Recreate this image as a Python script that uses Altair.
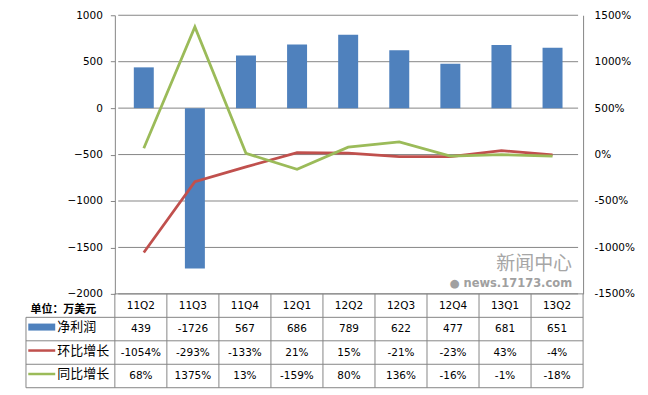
import altair as alt
import pandas as pd

# ---------------- data ----------------
categories = ["11Q2", "11Q3", "11Q4", "12Q1", "12Q2", "12Q3", "12Q4", "13Q1", "13Q2"]
net_profit = [439, -1726, 567, 686, 789, 622, 477, 681, 651]
qoq_growth = [-1054, -293, -133, 21, 15, -21, -23, 43, -4]
yoy_growth = [68, 1375, 13, -159, 80, 136, -16, -1, -18]
left_ticks = [1000, 500, 0, -500, -1000, -1500, -2000]
right_ticks = [1500, 1000, 500, 0, -500, -1000, -1500]
unit_label = "单位：万美元"
row_labels = ["净利润", "环比增长", "同比增长"]
watermark_title = "新闻中心"
watermark_sub = "● news.17173.com"

# ---------------- styles ----------------
BLUE = "#4F81BD"
RED = "#C0504D"
GREEN = "#9BBB59"
GRID = "#868686"
FONT = "DejaVu Sans"
CJK = "Noto Sans CJK SC"

n = len(categories)
LABEL_W = 89.0
CAT_W = 52.1
L = LABEL_W / CAT_W
W = LABEL_W + n * CAT_W
H_TOP = 279
H_TAB = 94
N_ROWS = 1 + len(row_labels)

xscale = alt.Scale(domain=[-L, n], nice=False, zero=False)
yl_scale = alt.Scale(domain=[min(left_ticks), max(left_ticks)], nice=False)
yr_scale = alt.Scale(domain=[min(right_ticks), max(right_ticks)], nice=False)
yt_scale = alt.Scale(domain=[0, N_ROWS], nice=False, zero=False, reverse=True)

pos = [i + 0.5 for i in range(n)]

bars_df = pd.DataFrame({"cat": categories, "pos": pos, "v": net_profit})
lines_df = pd.DataFrame({
    "pos": pos * 2,
    "series": [row_labels[1]] * n + [row_labels[2]] * n,
    "v": qoq_growth + yoy_growth,
    "order": list(range(n)) * 2,
})
grid_df = pd.DataFrame({"y": left_ticks, "x0": 0, "x1": n})

# ---------------- top chart ----------------
grid = alt.Chart(grid_df).mark_rule(color=GRID, strokeWidth=1).encode(
    x=alt.X("x0:Q", scale=xscale, axis=None),
    x2="x1:Q",
    y=alt.Y("y:Q", scale=yl_scale, axis=None),
)

bars = alt.Chart(bars_df).mark_bar(color=BLUE, size=20).encode(
    x=alt.X("pos:Q", scale=xscale, axis=None),
    y=alt.Y("v:Q", scale=yl_scale, axis=alt.Axis(
        orient="left", values=left_ticks, format="d", offset=-LABEL_W, grid=False,
        domainColor=GRID, tickColor=GRID, tickSize=4.5, labelPadding=8,
        labelFont=FONT, labelFontSize=10.5, labelColor="black", title=None)),
    y2=alt.datum(0),
)

lines = alt.Chart(lines_df).mark_line(strokeWidth=2.75).encode(
    x=alt.X("pos:Q", scale=xscale, axis=None),
    y=alt.Y("v:Q", scale=yr_scale, axis=alt.Axis(
        orient="right", values=right_ticks, labelExpr="datum.value + '%'",
        grid=False, ticks=False, tickSize=0, domainColor=GRID, labelPadding=11,
        labelFont=FONT, labelFontSize=10.5, labelColor="black", title=None)),
    color=alt.Color("series:N", scale=alt.Scale(domain=row_labels[1:], range=[RED, GREEN]), legend=None),
    order="order:Q",
)

top = alt.layer(grid, bars, lines).resolve_scale(y="independent").properties(
    width=W, height=H_TOP,
    title=alt.TitleParams(
        text=watermark_title, subtitle=watermark_sub, orient="bottom", anchor="end",
        frame="group", offset=-44, dx=-11, font=CJK, fontSize=19, fontWeight="normal",
        color="#A6A6A6", subtitleFont=FONT, subtitleFontSize=11.5, subtitleColor="#A0A0A0",
        subtitleFontWeight="bold", subtitlePadding=4),
)

# ---------------- table ----------------
cell_rows = []
for i, c in enumerate(categories):
    cell_rows.append({"x": pos[i], "y": 0.5, "t": c})
for i in range(n):
    cell_rows.append({"x": pos[i], "y": 1.5, "t": str(net_profit[i])})
    cell_rows.append({"x": pos[i], "y": 2.5, "t": f"{qoq_growth[i]}%"})
    cell_rows.append({"x": pos[i], "y": 3.5, "t": f"{yoy_growth[i]}%"})
cells_df = pd.DataFrame(cell_rows)

label_df = pd.DataFrame({"x": [-L] * len(row_labels), "y": [r + 1.5 for r in range(len(row_labels))], "t": row_labels})
unit_df = pd.DataFrame({"x": [-L], "y": [0.5], "t": [unit_label]})

v_df = pd.DataFrame({"x": list(range(n + 1)) + [-L], "y0": [0] * (n + 1) + [1], "y1": [N_ROWS] * (n + 2)})
h_df = pd.DataFrame({"y": list(range(1, N_ROWS + 1)) + [0], "x0": [-L] * N_ROWS + [0], "x1": [n] * (N_ROWS + 1)})

vlines = alt.Chart(v_df).mark_rule(color=GRID, strokeWidth=1).encode(
    x=alt.X("x:Q", scale=xscale, axis=None),
    y=alt.Y("y0:Q", scale=yt_scale, axis=None), y2="y1:Q")
hlines = alt.Chart(h_df).mark_rule(color=GRID, strokeWidth=1).encode(
    x=alt.X("x0:Q", scale=xscale, axis=None), x2="x1:Q",
    y=alt.Y("y:Q", scale=yt_scale, axis=None))

cells = alt.Chart(cells_df).mark_text(font=FONT, fontSize=10.5, color="black").encode(
    x=alt.X("x:Q", scale=xscale, axis=None),
    y=alt.Y("y:Q", scale=yt_scale, axis=None),
    text="t:N")

labels = alt.Chart(label_df).mark_text(font=CJK, fontSize=13, color="black", align="left", dx=31.3, dy=-2).encode(
    x=alt.X("x:Q", scale=xscale, axis=None),
    y=alt.Y("y:Q", scale=yt_scale, axis=None),
    text="t:N")

unit = alt.Chart(unit_df).mark_text(font=CJK, fontSize=11, fontWeight="bold", color="black", align="left", dx=4.5, dy=4).encode(
    x=alt.X("x:Q", scale=xscale, axis=None),
    y=alt.Y("y:Q", scale=yt_scale, axis=None),
    text="t:N")

sym_rect = alt.Chart(label_df.iloc[[0]]).mark_point(
    shape="M-1,-0.26L1,-0.26L1,0.26L-1,0.26Z", size=729, filled=True, opacity=1,
    color=BLUE, strokeWidth=0, xOffset=15.8, yOffset=-2).encode(
    x=alt.X("x:Q", scale=xscale, axis=None),
    y=alt.Y("y:Q", scale=yt_scale, axis=None))

sym_line = alt.Chart(label_df.iloc[1:]).mark_point(
    shape="M-1,0L1,0", size=729, filled=False, opacity=1, strokeWidth=2.5,
    xOffset=15.8, yOffset=-2).encode(
    x=alt.X("x:Q", scale=xscale, axis=None),
    y=alt.Y("y:Q", scale=yt_scale, axis=None),
    color=alt.Color("t:N", scale=alt.Scale(domain=row_labels[1:], range=[RED, GREEN]), legend=None))

table = alt.layer(hlines, vlines, cells, labels, unit, sym_rect, sym_line).properties(width=W, height=H_TAB)

chart = alt.vconcat(top, table, spacing=0, bounds="flush").properties(
    padding={"left": 14, "top": 1, "right": 5, "bottom": 5}
).configure_view(stroke="transparent")

chart.save("out.html", embed_options={"renderer": "svg", "actions": False})
